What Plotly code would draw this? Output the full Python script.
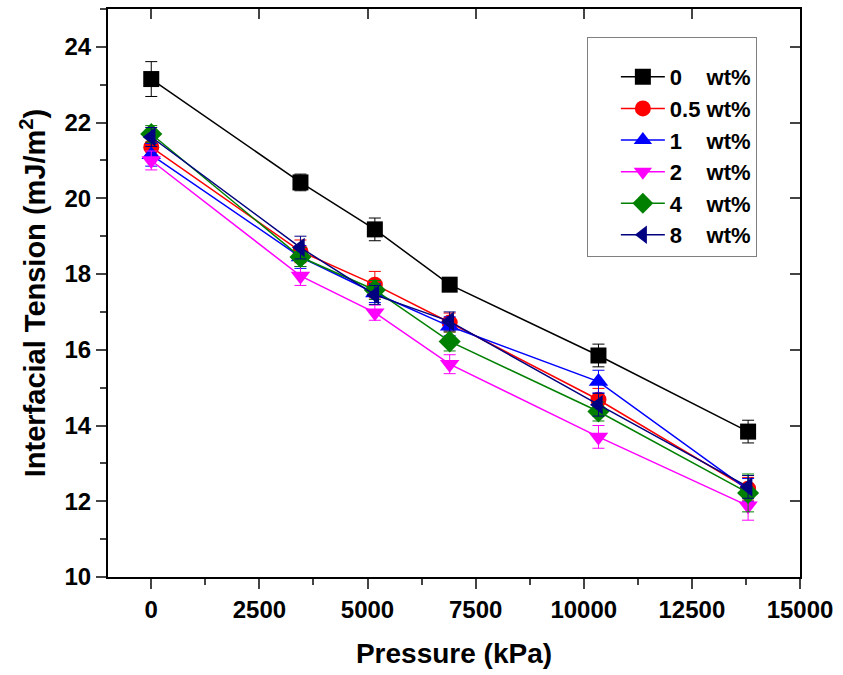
import plotly.graph_objects as go

pressure = [0, 3450, 5170, 6900, 10340, 13800]

series_names = ["0\u00a0\u00a0\u00a0\u00a0wt%", "0.5\u00a0wt%", "1\u00a0\u00a0\u00a0\u00a0wt%",
                "2\u00a0\u00a0\u00a0\u00a0wt%", "4\u00a0\u00a0\u00a0\u00a0wt%", "8\u00a0\u00a0\u00a0\u00a0wt%"]

ift_0 = [23.15, 20.42, 19.18, 17.72, 15.85, 13.84]
ift_05 = [21.35, 18.60, 17.72, 16.72, 14.68, 12.33]
ift_1 = [21.15, 18.45, 17.50, 16.62, 15.16, 12.30]
ift_2 = [21.00, 17.95, 16.98, 15.62, 13.70, 11.88]
ift_4 = [21.70, 18.45, 17.58, 16.22, 14.37, 12.22]
ift_8 = [21.62, 18.70, 17.45, 16.75, 14.55, 12.38]

err_0 = [0.46, 0.22, 0.30, 0.15, 0.30, 0.30]
err_05 = [0.25, 0.30, 0.35, 0.25, 0.30, 0.30]
err_1 = [0.30, 0.30, 0.25, 0.25, 0.30, 0.30]
err_2 = [0.25, 0.25, 0.20, 0.25, 0.30, 0.38]
err_4 = [0.22, 0.25, 0.25, 0.25, 0.25, 0.50]
err_8 = [0.25, 0.30, 0.25, 0.25, 0.30, 0.30]

values = [ift_0, ift_05, ift_1, ift_2, ift_4, ift_8]
errors = [err_0, err_05, err_1, err_2, err_4, err_8]
colors = ["#000000", "#ff0000", "#0000ff", "#ff00ff", "#008000", "#000080"]
symbols = ["square", "circle", "triangle-up", "triangle-down", "diamond", "triangle-left"]
sizes = [16, 16, 17, 17, 17, 17]

fig = go.Figure()
for name, y, e, c, s, sz in zip(series_names, values, errors, colors, symbols, sizes):
    fig.add_trace(go.Scatter(
        x=pressure, y=y, name=name, mode="lines+markers",
        line=dict(color=c, width=1.5),
        marker=dict(symbol=s, size=sz, color=c),
        error_y=dict(type="data", array=e, visible=True, color=c, thickness=1, width=6),
    ))

# helper trace for mirrored top/right axes
fig.add_trace(go.Scatter(x=[None], y=[None], xaxis="x2", yaxis="y2",
                         showlegend=False, hoverinfo="skip"))

fontfam = "Liberation Sans, Arial, sans-serif"
fig.update_layout(
    width=843, height=675,
    margin=dict(l=108, r=43, t=9, b=98),
    plot_bgcolor="white", paper_bgcolor="white",
    font=dict(family=fontfam, color="black"),
    xaxis=dict(
        range=[-1000, 15000], tick0=0, dtick=2500, tickformat="d",
        ticks="outside", ticklen=10, tickwidth=2,
        showline=True, linewidth=2, linecolor="black", showgrid=False, zeroline=False,
        tickfont=dict(size=24, weight="bold"),
        minor=dict(ticks="outside", ticklen=6, tickwidth=2, dtick=1250, tick0=0, showgrid=False),
        title=dict(text="Pressure (kPa)", font=dict(size=28, weight="bold"), standoff=22),
    ),
    yaxis=dict(
        range=[10, 25], tick0=10, dtick=2, ticks="outside", ticklen=10, tickwidth=2,
        showline=True, linewidth=2, linecolor="black", showgrid=False, zeroline=False,
        tickfont=dict(size=24, weight="bold"),
        minor=dict(ticks="outside", ticklen=6, tickwidth=2, dtick=1, tick0=10, showgrid=False),
        title=dict(text="Interfacial Tension (mJ/m<sup>2</sup>)", font=dict(size=29, weight="bold"), standoff=10),
    ),
    xaxis2=dict(
        range=[-1000, 15000], tick0=0, dtick=2500, overlaying="x", side="top", anchor="y",
        ticks="inside", ticklen=10, tickwidth=2, showticklabels=False,
        showline=True, linewidth=2, linecolor="black", showgrid=False, zeroline=False,
    ),
    yaxis2=dict(
        range=[10, 25], tick0=10, dtick=2, overlaying="y", side="right", anchor="x",
        ticks="inside", ticklen=10, tickwidth=2, showticklabels=False,
        showline=True, linewidth=2, linecolor="black", showgrid=False, zeroline=False,
    ),
    legend=dict(
        x=0.692, y=0.951, xanchor="left", yanchor="top",
        bordercolor="#808080", borderwidth=1, bgcolor="white",
        font=dict(size=22, weight="bold"),
        title=dict(text="\u00a0", font=dict(size=14)),
        indentation=28, itemwidth=44, tracegroupgap=0,
    ),
    showlegend=True,
)

fig.write_html("out.html")
